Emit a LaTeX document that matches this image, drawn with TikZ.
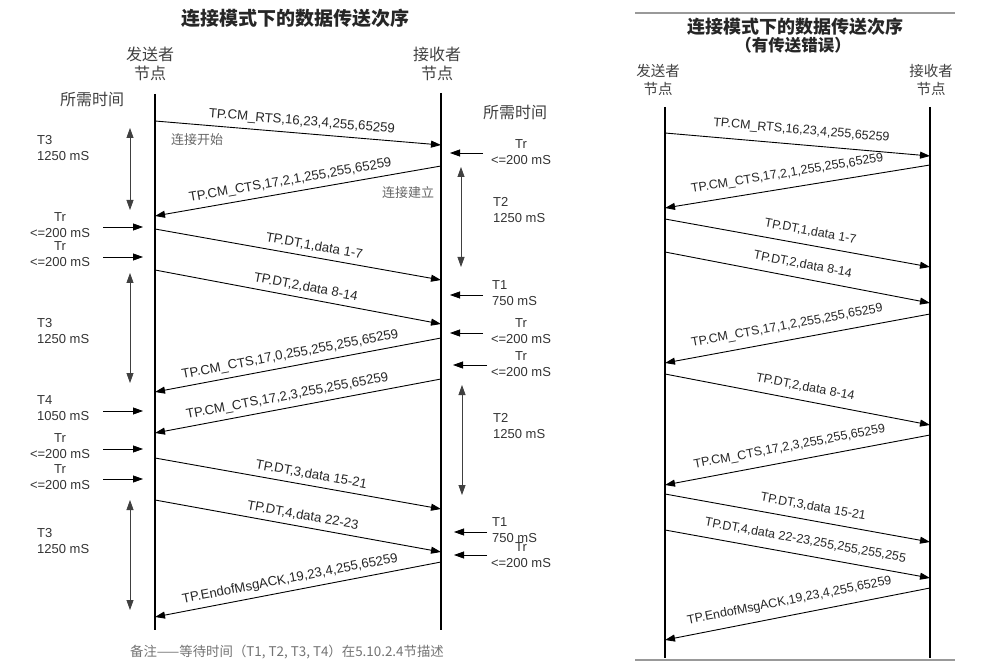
\documentclass[tikz,border=0pt]{standalone}
\usepackage{fontspec}
\setmainfont{Liberation Sans}
\newfontfamily\cjk{Noto Sans CJK SC}
\usetikzlibrary{arrows.meta}

\begin{document}
\begin{tikzpicture}[x=1pt, y=-1pt,
  life/.style={line width=2.8pt},
  lifeR/.style={line width=2pt},
  msg/.style={-{Triangle[length=10pt, width=7pt]}, line width=0.9pt},
  lbl/.style={sloped, above=4pt, inner sep=1pt, text=black!85, font=\fontsize{13.2}{14}\selectfont},
  lblR/.style={lbl, above=3pt, font=\fontsize{12.5}{14}\selectfont},
  span/.style={{Triangle[length=10pt, width=7pt]}-{Triangle[length=10pt, width=7pt]}, line width=0.8pt, draw=black!75},
  pin/.style={-{Triangle[length=10pt, width=7pt]}, line width=0.8pt},
  tlab/.style={align=center, inner sep=0pt, text=black!80, font=\fontsize{13}{16}\selectfont},
  tlabL/.style={tlab, align=left, anchor=west},
  zh/.style={font=\cjk\fontsize{16}{19}\selectfont, align=center, inner sep=0pt, text=black!75},
  zhR/.style={zh, font=\cjk\fontsize{14.5}{18}\selectfont},
  hint/.style={font=\cjk\fontsize{13}{13}\selectfont, text=black!60, inner sep=0pt},
  rule/.style={draw=black!40, line width=1.5pt}
]
  \useasboundingbox (0,0) rectangle (994,663);

  % ---- left: normal sequence
  \node[font=\cjk\bfseries\fontsize{19}{19}\selectfont, text=black!85] (titleL) at (295,18) {连接模式下的数据传送次序};
  \node[zh] (sndL) at (150,64) {发送者\\节点};
  \node[zh] (rcvL) at (437,64) {接收者\\节点};
  \node[zh] (needL) at (92,99) {所需时间};
  \node[zh] (needR) at (515,112) {所需时间};

  \coordinate (sTop) at (155,94);  \coordinate (sBot) at (155,630);
  \coordinate (rTop) at (441,93);  \coordinate (rBot) at (441,630);
  \draw[life] (sTop) -- (sBot);
  \draw[life] (rTop) -- (rBot);

  \coordinate (a1) at (155,121); \coordinate (b1) at (441,145);
  \coordinate (b2) at (441,166); \coordinate (a2) at (155,216);
  \coordinate (a3) at (155,229); \coordinate (b3) at (441,280);
  \coordinate (a4) at (155,270); \coordinate (b4) at (441,324);
  \coordinate (b5) at (441,338); \coordinate (a5) at (155,392);
  \coordinate (b6) at (441,379); \coordinate (a6) at (155,433);
  \coordinate (a7) at (155,458); \coordinate (b7) at (441,509);
  \coordinate (a8) at (155,500); \coordinate (b8) at (441,552);
  \coordinate (b9) at (441,562); \coordinate (a9) at (155,617);

  \draw[msg] (a1) -- node[lbl, pos=.51] (m1) {TP.CM\_RTS,16,23,4,255,65259} (b1);
  \draw[msg] (b2) -- node[lbl, pos=.52] (m2) {TP.CM\_CTS,17,2,1,255,255,65259} (a2);
  \draw[msg] (a3) -- node[lbl, pos=.55] (m3) {TP.DT,1,data 1-7} (b3);
  \draw[msg] (a4) -- node[lbl, pos=.52] (m4) {TP.DT,2,data 8-14} (b4);
  \draw[msg] (b5) -- node[lbl, pos=.52] (m5) {TP.CM\_CTS,17,0,255,255,255,65259} (a5);
  \draw[msg] (b6) -- node[lbl, pos=.53] (m6) {TP.CM\_CTS,17,2,3,255,255,65259} (a6);
  \draw[msg] (a7) -- node[lbl, pos=.54] (m7) {TP.DT,3,data 15-21} (b7);
  \draw[msg] (a8) -- node[lbl, pos=.51] (m8) {TP.DT,4,data 22-23} (b8);
  \draw[msg] (b9) -- node[lbl, pos=.52] (m9) {TP.EndofMsgACK,19,23,4,255,65259} (a9);

  \node[hint] (open) at (197,140) {连接开始};
  \node[hint] (made) at (408,193) {连接建立};

  % sender side waits
  \coordinate (w1a) at (130,128); \coordinate (w1b) at (130,210);
  \coordinate (w2a) at (130,273); \coordinate (w2b) at (130,383);
  \coordinate (w3a) at (130,500); \coordinate (w3b) at (130,610);
  \draw[span] (w1a) -- (w1b);
  \draw[span] (w2a) -- (w2b);
  \draw[span] (w3a) -- (w3b);
  \node[tlabL] (t3a) at (37,148) {T3\\1250 mS};
  \node[tlabL] (t3b) at (37,331) {T3\\1250 mS};
  \node[tlabL] (t3c) at (37,541) {T3\\1250 mS};
  \node[tlabL] (t4) at (37,408) {T4\\1050 mS};
  \node[tlab] (tr1) at (60,225) {Tr\\<=200 mS};
  \node[tlab] (tr2) at (60,254) {Tr\\<=200 mS};
  \node[tlab] (tr3) at (60,446) {Tr\\<=200 mS};
  \node[tlab] (tr4) at (60,477) {Tr\\<=200 mS};

  \coordinate (p1a) at (103,227); \coordinate (p1b) at (143,227);
  \coordinate (p2a) at (103,257); \coordinate (p2b) at (143,257);
  \coordinate (p3a) at (103,411); \coordinate (p3b) at (143,411);
  \coordinate (p4a) at (103,449); \coordinate (p4b) at (143,449);
  \coordinate (p5a) at (103,479); \coordinate (p5b) at (143,479);
  \foreach \k in {1,...,5} \draw[pin] (p\k a) -- (p\k b);

  % receiver side waits
  \coordinate (v1a) at (461,167); \coordinate (v1b) at (461,267);
  \coordinate (v2a) at (462,385); \coordinate (v2b) at (462,495);
  \draw[span] (v1a) -- (v1b);
  \draw[span] (v2a) -- (v2b);
  \node[tlabL] (t2a) at (493,210) {T2\\1250 mS};
  \node[tlabL] (t2b) at (493,426) {T2\\1250 mS};
  \node[tlabL] (t1a) at (492,293) {T1\\750 mS};
  \node[tlabL] (t1b) at (492,530) {T1\\750 mS};
  \node[tlab] (tr5) at (521,152) {Tr\\<=200 mS};
  \node[tlab] (tr6) at (521,331) {Tr\\<=200 mS};
  \node[tlab] (tr7) at (521,364) {Tr\\<=200 mS};
  \node[tlab] (tr8) at (521,555) {Tr\\<=200 mS};

  \coordinate (q1a) at (483,153); \coordinate (q1b) at (450,153);
  \coordinate (q2a) at (483,295); \coordinate (q2b) at (450,295);
  \coordinate (q3a) at (483,333); \coordinate (q3b) at (450,333);
  \coordinate (q4a) at (487,365); \coordinate (q4b) at (453,365);
  \coordinate (q5a) at (487,532); \coordinate (q5b) at (454,532);
  \coordinate (q6a) at (487,555); \coordinate (q6b) at (454,555);
  \foreach \k in {1,...,6} \draw[pin] (q\k a) -- (q\k b);

  \node[hint, text=black!55, font=\cjk\fontsize{13.4}{13}\selectfont] (memo) at (287,652) {备注——等待时间（T1, T2, T3, T4）在5.10.2.4节描述};

  % ---- right: sequence with a transfer error
  \coordinate (topL) at (635,13);  \coordinate (topR) at (955,13);
  \coordinate (botL) at (635,660); \coordinate (botR) at (955,660);
  \draw[rule] (topL) -- (topR);
  \draw[rule] (botL) -- (botR);
  \node[font=\cjk\bfseries\fontsize{18}{18}\selectfont, text=black!85] (titleR) at (795,27) {连接模式下的数据传送次序};
  \node[font=\cjk\bfseries\fontsize{16.5}{16.5}\selectfont, text=black!85] (subR) at (793,45) {（有传送错误）};
  \node[zhR] (sndR) at (658,80) {发送者\\节点};
  \node[zhR] (rcvR) at (931,80) {接收者\\节点};

  \coordinate (sRt) at (665,107); \coordinate (sRb) at (665,658);
  \coordinate (rRt) at (930,107); \coordinate (rRb) at (930,658);
  \draw[lifeR] (sRt) -- (sRb);
  \draw[lifeR] (rRt) -- (rRb);

  \coordinate (c1) at (665,133); \coordinate (d1) at (930,156);
  \coordinate (d2) at (930,165); \coordinate (c2) at (665,208);
  \coordinate (c3) at (665,219); \coordinate (d3) at (930,267);
  \coordinate (c4) at (665,252); \coordinate (d4) at (930,303);
  \coordinate (d5) at (930,314); \coordinate (c5) at (665,363);
  \coordinate (c6) at (665,374); \coordinate (d6) at (930,425);
  \coordinate (d7) at (930,435); \coordinate (c7) at (665,485);
  \coordinate (c8) at (665,494); \coordinate (d8) at (930,542);
  \coordinate (c9) at (665,530); \coordinate (d9) at (930,578);
  \coordinate (d10) at (930,588); \coordinate (c10) at (665,640);

  \draw[msg] (c1) -- node[lblR, pos=.51] (n1) {TP.CM\_RTS,16,23,4,255,65259} (d1);
  \draw[msg] (d2) -- node[lblR, pos=.53] (n2) {TP.CM\_CTS,17,2,1,255,255,65259} (c2);
  \draw[msg] (c3) -- node[lblR, pos=.54] (n3) {TP.DT,1,data 1-7} (d3);
  \draw[msg] (c4) -- node[lblR, pos=.51] (n4) {TP.DT,2,data 8-14} (d4);
  \draw[msg] (d5) -- node[lblR, pos=.53] (n5) {TP.CM\_CTS,17,1,2,255,255,65259} (c5);
  \draw[msg] (c6) -- node[lblR, pos=.52] (n6) {TP.DT,2,data 8-14} (d6);
  \draw[msg] (d7) -- node[lblR, pos=.52] (n7) {TP.CM\_CTS,17,2,3,255,255,65259} (c7);
  \draw[msg] (c8) -- node[lblR, pos=.55] (n8) {TP.DT,3,data 15-21} (d8);
  \draw[msg] (c9) -- node[lblR, pos=.52, above=1pt] (n9) {TP.DT,4,data 22-23,255,255,255,255} (d9);
  \draw[msg] (d10) -- node[lblR, pos=.52] (n10) {TP.EndofMsgACK,19,23,4,255,65259} (c10);
\end{tikzpicture}
\end{document}
